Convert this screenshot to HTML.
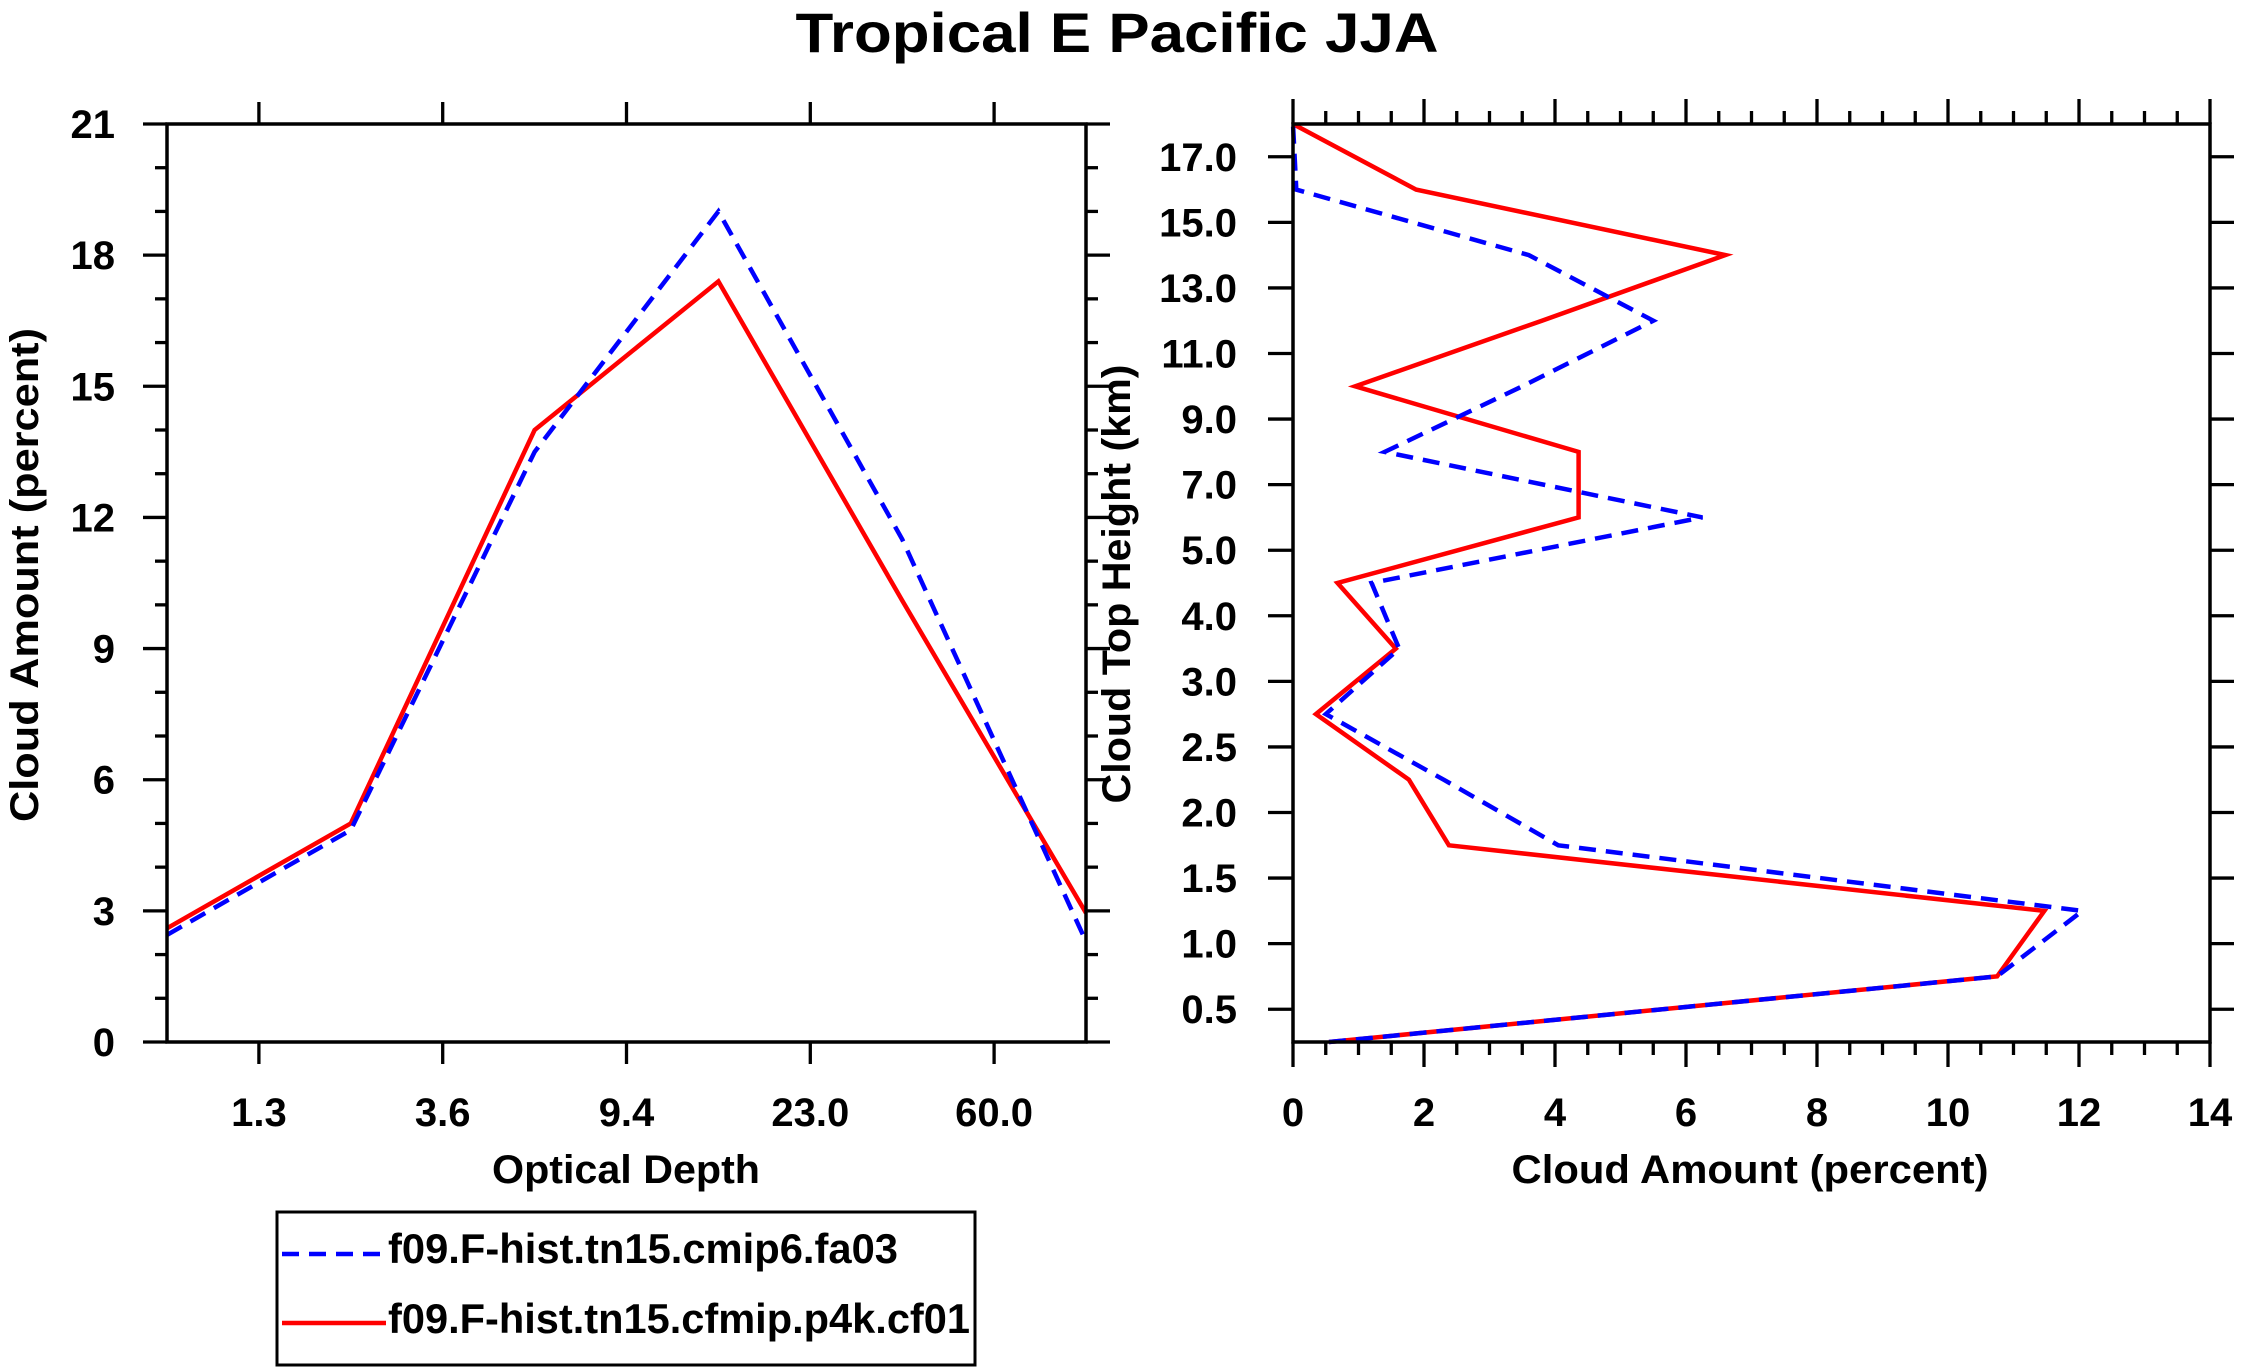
<!DOCTYPE html>
<html><head><meta charset="utf-8">
<style>
html,body{margin:0;padding:0;background:#fff;}
svg{display:block;font-family:"Liberation Sans",Arial,sans-serif;font-weight:bold;}
</style></head>
<body>
<svg id="fig" width="2241" height="1372" viewBox="0 0 2241 1372" xmlns="http://www.w3.org/2000/svg">
<rect width="2241" height="1372" fill="#fff"/>
<text x="1117" y="52" font-size="56" text-anchor="middle" textLength="643" lengthAdjust="spacingAndGlyphs">Tropical E Pacific JJA</text>
<g id="left"></g>
<g id="right"></g>
<g id="legend">
  <rect x="277" y="1212" width="698" height="153" fill="none" stroke="#000" stroke-width="3"/>
  <line x1="282" y1="1254" x2="386" y2="1254" stroke="#0000ff" stroke-width="4.5" stroke-dasharray="17,10"/>
  <text x="388" y="1263" font-size="42" textLength="510" lengthAdjust="spacingAndGlyphs">f09.F-hist.tn15.cmip6.fa03</text>
  <line x1="282" y1="1323" x2="386" y2="1323" stroke="#ff0000" stroke-width="4.5"/>
  <text x="388" y="1333" font-size="42" textLength="582" lengthAdjust="spacingAndGlyphs">f09.F-hist.tn15.cfmip.p4k.cf01</text>
</g>
</svg>
<script>
// Left panel data
const odCategories = ["1.3", "3.6", "9.4", "23.0", "60.0"];
const odBlue = [2.45, 4.85, 13.5, 19.0, 11.5, 2.3];
const odRed = [2.6, 5.0, 14.0, 17.4, 10.1, 2.95];
const odYTicks = [0, 3, 6, 9, 12, 15, 18, 21];
// Right panel data
const cthLabels = ["0.5","1.0","1.5","2.0","2.5","3.0","4.0","5.0","7.0","9.0","11.0","13.0","15.0","17.0"];
const cthBlue = [0.55, 10.75, 12.05, 4.05, 2.3, 0.5, 1.62, 1.2, 6.25, 1.4, 3.5, 5.5, 3.6, 0.05, 0.0];
const cthRed  = [0.55, 10.75, 11.47, 2.38, 1.77, 0.35, 1.57, 0.68, 4.36, 4.36, 0.95, 3.8, 6.6, 1.88, 0.0];
const cthXTicks = [0, 2, 4, 6, 8, 10, 12, 14];

const NS = "http://www.w3.org/2000/svg";
function mk(parent, tag, attrs) {
  const e = document.createElementNS(NS, tag);
  for (const k in attrs) e.setAttribute(k, attrs[k]);
  parent.appendChild(e);
  return e;
}
function txt(parent, x, y, s, size, anchor, extra) {
  const t = mk(parent, "text", Object.assign({x: x, y: y, "font-size": size, "text-anchor": anchor || "start"}, extra || {}));
  t.textContent = s;
  return t;
}

// ---------- Left panel ----------
const L = document.getElementById("left");
const lx0 = 167, lx1 = 1086, ly0 = 124, ly1 = 1042;
const lxs = i => lx0 + i * (lx1 - lx0) / 5;
const lys = v => ly1 - v * (ly1 - ly0) / 21;

// minor y ticks
for (let v = 0; v <= 21; v++) {
  const major = v % 3 === 0;
  const len = major ? 24 : 12;
  let t = mk(L, "line", {x1: lx0 - len, y1: lys(v), x2: lx0, y2: lys(v), stroke: "#000", "stroke-width": 3.3});
  
  
  t = mk(L, "line", {x1: lx1, y1: lys(v), x2: lx1 + len, y2: lys(v), stroke: "#000", "stroke-width": 3.3});
  
  
}
odYTicks.forEach(v => {
  const t = txt(L, 115, lys(v) + 14, String(v), 40, "end");
  
  
});
odCategories.forEach((c, i) => {
  const x = lxs(i + 0.5);
  let t = mk(L, "line", {x1: x, y1: ly0 - 22, x2: x, y2: ly0, stroke: "#000", "stroke-width": 3.3});
  
  
  t = mk(L, "line", {x1: x, y1: ly1, x2: x, y2: ly1 + 22, stroke: "#000", "stroke-width": 3.3});
  
  
  const lab = txt(L, x, 1126, c, 40, "middle");
  
  
});
function lpts(arr) { return arr.map((v, i) => lxs(i).toFixed(1) + "," + lys(v).toFixed(1)).join(" "); }
let p = mk(L, "polyline", {points: lpts(odRed), fill: "none", stroke: "#ff0000", "stroke-width": 4.5, "stroke-linejoin": "miter"});


p = mk(L, "polyline", {points: lpts(odBlue), fill: "none", stroke: "#0000ff", "stroke-width": 4.5, "stroke-dasharray": "17,10"});


let b = mk(L, "rect", {x: lx0, y: ly0, width: lx1 - lx0, height: ly1 - ly0, fill: "none", stroke: "#000", "stroke-width": 3.5});


let at = txt(L, 626, 1183, "Optical Depth", 40, "middle", {textLength: 268, lengthAdjust: "spacingAndGlyphs"});


at = txt(L, 0, 0, "Cloud Amount (percent)", 40, "middle", {transform: "translate(38,575) rotate(-90)", textLength: 494, lengthAdjust: "spacingAndGlyphs"});



// ---------- Right panel ----------
const R = document.getElementById("right");
const rx0 = 1293, rx1 = 2210, ry0 = 124, ry1 = 1042;
const rxs = v => rx0 + v * (rx1 - rx0) / 14;
const rys = k => ry1 - k * (ry1 - ry0) / 14;

for (let v = 0; v <= 14.001; v += 0.5) {
  const major = Math.abs(v % 2) < 1e-6;
  const len = major ? 25 : 13;
  let t = mk(R, "line", {x1: rxs(v), y1: ry0 - len, x2: rxs(v), y2: ry0, stroke: "#000", "stroke-width": 3.3});
  
  
  t = mk(R, "line", {x1: rxs(v), y1: ry1, x2: rxs(v), y2: ry1 + len, stroke: "#000", "stroke-width": 3.3});
  
  
}
cthXTicks.forEach(v => {
  const t = txt(R, rxs(v), 1126, String(v), 40, "middle");
  
  
});
cthLabels.forEach((s, i) => {
  const y = rys(i + 0.5);
  let t = mk(R, "line", {x1: rx0 - 25, y1: y, x2: rx0, y2: y, stroke: "#000", "stroke-width": 3.3});
  
  
  t = mk(R, "line", {x1: rx1, y1: y, x2: rx1 + 24, y2: y, stroke: "#000", "stroke-width": 3.3});
  
  
  const lab = txt(R, 1237, y + 14, s, 40, "end");
  
  
});
function rpts(arr) { return arr.map((v, k) => rxs(v).toFixed(1) + "," + rys(k).toFixed(1)).join(" "); }
p = mk(R, "polyline", {points: rpts(cthRed), fill: "none", stroke: "#ff0000", "stroke-width": 4.5});


p = mk(R, "polyline", {points: rpts(cthBlue), fill: "none", stroke: "#0000ff", "stroke-width": 4.5, "stroke-dasharray": "17,10"});


b = mk(R, "rect", {x: rx0, y: ry0, width: rx1 - rx0, height: ry1 - ry0, fill: "none", stroke: "#000", "stroke-width": 3.5});


at = txt(R, 1750, 1183, "Cloud Amount (percent)", 40, "middle", {textLength: 477, lengthAdjust: "spacingAndGlyphs"});


at = txt(R, 0, 0, "Cloud Top Height (km)", 40, "middle", {transform: "translate(1130,584) rotate(-90)", textLength: 439, lengthAdjust: "spacingAndGlyphs"});


</script>
</body></html>
